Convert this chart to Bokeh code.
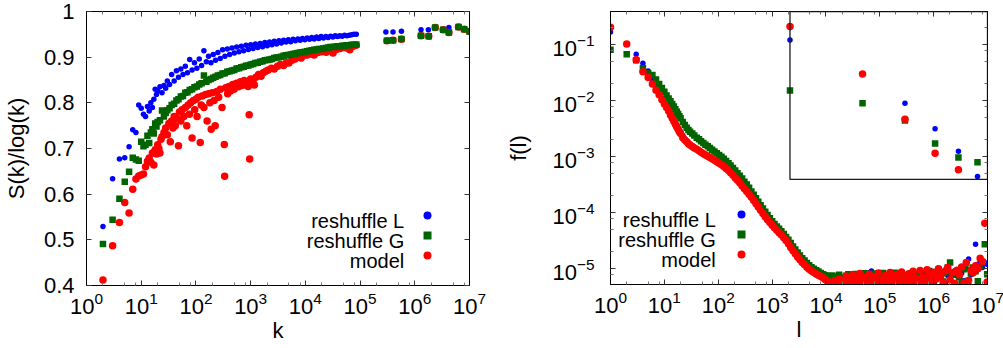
import numpy as np
from bokeh.plotting import figure
from bokeh.layouts import row
from bokeh.models import (LogAxis, LinearAxis, FixedTicker, Range1d, LogScale, Legend,
                          LegendItem, Label, BoxAnnotation, CustomJSTickFormatter)
from bokeh.embed import file_html
from bokeh.resources import INLINE

# ---------------- left panel: S(k)/log(k) versus k ----------------
k_L = [2, 3, 4, 5, 6, 7, 8, 9, 10, 11, 12, 13, 14, 15, 16, 17, 18, 19, 20, 22,
       24, 26, 28, 30, 33, 36, 40, 44, 48, 53, 58, 64, 70, 77, 85, 94, 104, 115, 127, 140,
       155, 170, 188, 207, 228, 252, 278, 307, 339, 374, 413, 456, 503, 555, 613, 676, 747, 824, 910, 1004,
       1110, 1225, 1350, 1490, 1650, 1820, 2010, 2220, 2450, 2700, 2980, 3290, 3630, 4010, 4430, 4890, 5400, 5960, 6580, 7260,
       8020, 8850, 9770, 10800, 11900, 13100, 14500, 16000, 17600, 19400, 21400, 23700, 26100, 28800, 31800, 35100, 38700, 42700, 47200, 52100,
       57500, 63400, 70000, 77300, 85300, 296000, 400000, 570000, 1300000, 1770000, 4200000, 6500000, 8000000]
s_L = [.529, .634, .677, .680, .704, .741, .735, .795, .788, .775, .770, .792, .782, .800, .790, .808, .830, .818, .826, .835,
       .822, .838, .832, .848, .840, .862, .848, .870, .856, .874, .862, .880, .866, .895, .872, .888, .876, .896, .882, .914,
       .890, .902, .888, .906, .893, .910, .897, .916, .902, .918, .906, .920, .909, .922, .912, .924, .914, .926, .917, .927,
       .919, .929, .921, .930, .923, .932, .925, .933, .927, .935, .929, .936, .931, .937, .933, .938, .934, .939, .936, .940,
       .937, .941, .938, .942, .939, .943, .940, .944, .941, .945, .942, .945, .943, .946, .944, .947, .945, .947, .946, .948,
       .947, .948, .949, .950, .950, .955, .955, .957, .960, .960, .965, .966, .962]

k_G = [2, 3, 4, 5, 6, 7, 8, 9, 10, 11, 12, 13, 14, 15, 16, 17, 18, 19, 20, 22,
       24, 26, 28, 30, 33, 36, 40, 44, 48, 53, 58, 64, 70, 77, 85, 94, 104, 115, 127, 140,
       155, 170, 188, 207, 228, 252, 278, 307, 339, 374, 413, 456, 503, 555, 613, 676, 747, 824, 910, 1004,
       1110, 1225, 1350, 1490, 1650, 1820, 2010, 2220, 2450, 2700, 2980, 3290, 3630, 4010, 4430, 4890, 5400, 5960, 6580, 7260,
       8020, 8850, 9770, 10800, 11900, 13100, 14500, 16000, 17600, 19400, 21400, 23700, 26100, 28800, 31800, 35100, 38700, 42700, 47200, 52100,
       57500, 63400, 70000, 77300, 85300, 310000, 400000, 570000, 1300000, 1800000, 2360000, 3300000, 4200000, 6300000, 8000000, 10000000]
s_G = [.491, .544, .590, .627, .649, .680, .676, .673, .715, .705, .708, .728, .712, .735, .742, .733, .755, .748, .758, .762,
       .783, .770, .778, .784, .788, .795, .798, .805, .808, .814, .815, .822, .823, .828, .830, .834, .836, .840, .843, .860,
       .846, .850, .852, .855, .857, .860, .861, .864, .865, .868, .869, .871, .872, .875, .876, .878, .879, .881, .882, .884,
       .885, .887, .888, .890, .891, .893, .894, .895, .896, .898, .899, .900, .901, .903, .904, .905, .906, .907, .908, .909,
       .910, .911, .912, .913, .914, .915, .916, .917, .918, .918, .919, .920, .921, .922, .922, .923, .924, .924, .925, .925,
       .926, .926, .927, .927, .928, .936, .937, .940, .947, .946, .965, .960, .954, .966, .961, .956]

k_M = [2, 3, 4, 5, 6, 7, 8, 9, 10, 11, 12, 13, 14, 15, 16, 17, 18, 19, 20, 21,
       22, 23, 24, 26, 28, 30, 32, 34, 36, 38, 40, 42, 45, 48, 50, 53, 56, 60, 64, 68,
       72, 76, 80, 85, 90, 95, 100, 105, 110, 120, 125, 130, 140, 150, 160, 170, 180, 190, 200, 215,
       225, 240, 260, 280, 300, 330, 335, 350, 380, 400, 430, 470, 500, 550, 600, 650, 700, 760, 830, 900,
       940, 960, 1000, 1100, 1170, 1250, 1400, 1550, 1700, 1900, 2100, 2400, 2700, 3100, 3500, 4000, 4500, 5000, 5700, 6500,
       7400, 8400, 9500, 10800, 12500, 14500, 17000, 20000, 24000, 28000, 32000, 37000, 43000, 50000, 57000, 65000, 75000, 85000,
       310000, 400000, 570000, 1300000, 1800000, 2360000, 3300000, 4200000, 6300000, 8000000, 10000000]
s_M = [.412, .487, .538, .582, .559, .611, .633, .640, .642, .644, .660, .672, .679, .670, .690, .664, .697, .688, .708, .700,
       .690, .720, .726, .735, .745, .730, .755, .715, .760, .745, .770, .750, .765, .706, .780, .760, .785, .770, .790, .750,
       .795, .775, .800, .723, .805, .785, .808, .770, .812, .713, .795, .815, .790, .818, .760, .820, .800, .742, .822, .805,
       .750, .825, .812, .830, .790, .709, .639, .833, .820, .836, .826, .840, .830, .843, .835, .846, .838, .849, .842, .836,
       .774, .677, .852, .846, .839, .856, .862, .858, .866, .869, .872, .876, .874, .880, .884, .882, .888, .887, .893, .896,
       .900, .898, .904, .905, .907, .905, .910, .912, .911, .914, .909, .917, .919, .921, .920, .916, .924, .926,
       .936, .937, .939, .947, .946, .965, .960, .954, .966, .961, .956]

# ---------------- right panel: f(l) versus l ----------------
l_vals = [1, 2, 3, 4, 5, 6, 7, 8, 9, 10,
          11, 12, 13, 14, 15, 16, 17, 18, 19, 20,
          22, 24, 26, 28, 30, 33, 36, 40, 44, 48,
          53, 58, 64, 70, 77, 85, 94, 104, 115, 127,
          140, 155, 170, 188, 207, 228, 252, 278, 307, 339,
          374, 413, 456, 503, 555, 613, 676, 747, 824, 910,
          1004, 1110, 1225, 1350, 1490, 1650, 1820, 2010, 2220, 2450,
          2700, 2980, 3290, 3630, 4010, 4430, 4890, 5400, 5960, 6580,
          7260, 8020, 8850, 9770, 10800, 11900, 13100, 14500, 16000, 17600,
          19400, 21400, 23700, 26100, 28800, 31800, 35100, 38700, 42700, 47200,
          52100, 57500, 63400, 70000, 77300, 85300, 94200, 104000, 115000, 127000,
          140000, 155000, 171000, 189000, 208000, 230000, 254000, 280000, 309000, 341000,
          377000, 416000, 459000, 507000, 560000, 618000, 682000, 753000, 831000, 918000,
          1010000, 1120000, 1230000, 1360000, 1500000, 1660000, 1830000, 2020000, 2230000, 2460000,
          2720000, 3000000, 3310000, 3660000, 4040000, 4460000, 4920000, 5430000, 6000000, 6620000,
          7310000, 8070000, 8910000, 9840000]
f_L = [.170, .104, .068, .047, .034, .0236, .0170, .0136, .0112, .0094,
       .0081, .0070, .0060, .0052, .0046, .0041, .0037, .0033, .0030, .0028,
       .0024, .0021, .0019, .00178, .00168, .00158, .00149, .00140, .00132, .00125,
       .00117, .00111, .00105, .00099, .00094, .00089, .00084, .00079, .00074, .00069,
       .00064, .00059, .00054, .00049, .00044, .00040, .00035, .00031, .00028, .00025,
       2.22e-4, 1.95e-4, 1.7e-4, 1.5e-4, 1.31e-4, 1.15e-4, 1.0e-4, 8.8e-5, 7.8e-5, 6.9e-5,
       6.2e-5, 5.6e-5, 5.0e-5, 4.6e-5, 4.1e-5, 3.7e-5, 3.3e-5, 2.9e-5, 2.5e-5, 2.2e-5,
       1.92e-5, 1.69e-5, 1.5e-5, 1.34e-5, 1.21e-5, 1.1e-5, 1.0e-5, 9.3e-6, 8.7e-6, 8.2e-6,
       7.8e-6, 7.4e-6, 7.0e-6, 6.6e-6, 6.3e-6, 6.0e-6, 5.7e-6, 5.9e-6, 5.4e-6, 6.1e-6,
       5.8e-6, 5.3e-6, 6.0e-6, 6.3e-6, 5.5e-6, 6.2e-6, 6.6e-6, 5.4e-6, 6.3e-6, 6.9e-6,
       5.6e-6, 7.8e-6, 8.5e-6, 9.1e-6, 7.0e-6, 5.6e-6, 6.7e-6, 5.3e-6, 6.4e-6, 5.5e-6,
       6.2e-6, 5.3e-6, 6.0e-6, 6.6e-6, 5.4e-6, 6.3e-6, 5.5e-6, 6.1e-6, 6.7e-6, 5.4e-6,
       7.2e-6, 6.4e-6, 5.5e-6, 7.6e-6, 6.8e-6, 5.6e-6, 7.3e-6, 6.6e-6, 5.4e-6, 7.0e-6,
       7.8e-6, 6.4e-6, 7.2e-6, 8.2e-6, 8.8e-6, 5.6e-6, 7.6e-6, 6.6e-6, 8.0e-6, 9.2e-6,
       7.4e-6, 6.9e-6, 8.3e-6, 6.1e-6, 1.0e-5, 1.5e-5, 7.8e-6, 9.0e-6, 2.75e-5, 1.2e-5,
       1.4e-5, 1.05e-5, 1.3e-5, 1.2e-5]
f_G = [.082, .068, .053, .038, .031, .029, .024, .020, .017, .0145,
       .0125, .0110, .0098, .0088, .0079, .0071, .0064, .0058, .0053, .0049,
       .0042, .0037, .0033, .0030, .0028, .0026, .0024, .0022, .00205, .00190,
       .00176, .00165, .00154, .00144, .00134, .00125, .00116, .00108, .00100, .00092,
       .00084, .00077, .00070, .00063, .00057, .00051, .00046, .00041, .00036, .00032,
       2.8e-4, 2.4e-4, 2.1e-4, 1.82e-4, 1.58e-4, 1.37e-4, 1.19e-4, 1.04e-4, 9.1e-5, 8.0e-5,
       7.1e-5, 6.3e-5, 5.7e-5, 5.2e-5, 4.7e-5, 4.2e-5, 3.7e-5, 3.3e-5, 2.9e-5, 2.5e-5,
       2.2e-5, 1.95e-5, 1.73e-5, 1.55e-5, 1.40e-5, 1.27e-5, 1.16e-5, 1.07e-5, 1.0e-5, 9.4e-6,
       8.9e-6, 8.4e-6, 8.0e-6, 7.7e-6, 7.4e-6, 7.1e-6, 7.6e-6, 6.2e-6, 7.3e-6, 7.8e-6,
       7.0e-6, 5.6e-6, 7.5e-6, 8.0e-6, 6.2e-6, 7.4e-6, 8.1e-6, 5.8e-6, 6.5e-6, 7.7e-6,
       8.3e-6, 6.0e-6, 7.5e-6, 5.6e-6, 8.2e-6, 7.2e-6, 5.8e-6, 7.8e-6, 8.4e-6, 6.1e-6,
       5.5e-6, 7.9e-6, 7.3e-6, 8.5e-6, 5.9e-6, 7.6e-6, 8.2e-6, 6.0e-6, 5.4e-6, 7.7e-6,
       8.3e-6, 6.2e-6, 5.7e-6, 7.9e-6, 7.4e-6, 8.6e-6, 6.0e-6, 7.8e-6, 9.1e-6, 6.3e-6,
       5.8e-6, 8.0e-6, 9.5e-6, 7.5e-6, 5.9e-6, 8.4e-6, 1.05e-5, 1.3e-5, 7.8e-6, 5.4e-6,
       8.8e-6, 7.2e-6, 5.8e-6, 9.8e-6, 1.25e-5, 6.1e-6, 8.3e-6, 1.05e-5, 9.0e-6, 6.0e-6,
       1.1e-5, 1.3e-5, 2.75e-5, 8.0e-6]
f_M = [.207, .104, .054, .033, .026, .020, .0155, .0128, .0105, .0088,
       .0076, .0066, .0056, .0049, .0043, .0038, .0034, .0031, .0028, .0026,
       .0022, .0020, .00185, .00172, .00163, .00153, .00144, .00136, .00128, .00121,
       .00114, .00108, .00102, .00097, .00092, .00087, .00082, .00077, .00072, .00067,
       .00062, .00057, .00052, .00047, .00042, .00038, .00034, .00030, .00027, .00024,
       2.15e-4, 1.9e-4, 1.65e-4, 1.45e-4, 1.27e-4, 1.11e-4, 9.7e-5, 8.5e-5, 7.5e-5, 6.7e-5,
       6.0e-5, 5.4e-5, 4.9e-5, 4.4e-5, 4.0e-5, 3.6e-5, 3.2e-5, 2.8e-5, 2.4e-5, 2.1e-5,
       1.85e-5, 1.63e-5, 1.45e-5, 1.30e-5, 1.18e-5, 1.07e-5, 9.8e-6, 9.1e-6, 8.6e-6, 8.1e-6,
       7.7e-6, 7.3e-6, 6.9e-6, 6.4e-6, 6.0e-6, 5.6e-6, 5.3e-6, 6.1e-6, 5.4e-6, 6.5e-6,
       5.2e-6, 6.2e-6, 7.4e-6, 5.5e-6, 6.6e-6, 7.8e-6, 5.6e-6, 6.8e-6, 8.2e-6, 5.7e-6,
       7.0e-6, 5.3e-6, 8.0e-6, 6.1e-6, 7.2e-6, 5.5e-6, 8.4e-6, 6.3e-6, 5.4e-6, 7.6e-6,
       6.0e-6, 8.6e-6, 6.5e-6, 5.3e-6, 7.9e-6, 6.2e-6, 8.8e-6, 6.7e-6, 5.5e-6, 8.1e-6,
       6.4e-6, 9.0e-6, 6.9e-6, 5.6e-6, 9.3e-6, 7.1e-6, 5.8e-6, 9.6e-6, 7.4e-6, 6.0e-6,
       8.7e-6, 6.6e-6, 1.0e-5, 7.6e-6, 5.7e-6, 9.2e-6, 1.05e-5, 6.4e-6, 8.5e-6, 5.5e-6,
       9.4e-6, 7.8e-6, 1.08e-5, 5.6e-6, 1.3e-5, 6.2e-6, 9.5e-6, 8.5e-6, 1.13e-5, 1.0e-5,
       1.55e-5, 1.35e-5, 6.5e-5, 5.8e-6]

series_names = ["reshuffle L", "reshuffle G", "model"]

# axis limits
K_RANGE = (1.0, 1e7)
S_RANGE = (0.4, 1.0)
S_TICKS = [0.4, 0.5, 0.6, 0.7, 0.8, 0.9, 1.0]
F_RANGE = (5.24e-6, 0.394)
F_TICKS = [1e-5, 1e-4, 1e-3, 1e-2, 1e-1]
INSET_L_RANGE = (0.18, 6.60)
INSET_F_RANGE = (0.004935, 0.2572)
INSET_BOX = (1.0, 0.0226)   # lower-left corner of the inset in inset coordinates

# styles
FONT = "Liberation Sans"
BLUE, GREEN, RED = "#0000ff", "#006400", "#ff0000"
MK = {"L": ("circle", 5.5, BLUE), "G": ("square", 6.5, GREEN), "M": ("circle", 7.5, RED)}
TICK_FS = "22px"
LABEL_FS = "22px"
LEG_FS = "20px"

decades = [10.0 ** i for i in range(8)]
minor_k = [m * 10.0 ** i for i in range(7) for m in (2, 5, 8)]
minor_f = [m * 10.0 ** i for i in range(-6, 0) for m in (2, 5, 8)]


def style_axis(ax, show_labels=True, standoff=10, label_standoff=8):
    ax.axis_line_color = "black"
    ax.axis_line_width = 1
    ax.major_tick_in = 5
    ax.major_tick_out = 0
    ax.minor_tick_in = 3
    ax.minor_tick_out = 0
    ax.major_tick_line_color = "#333333"
    ax.minor_tick_line_color = "#777777"
    ax.major_label_text_font = FONT
    ax.major_label_text_color = "black"
    ax.axis_label_text_font = FONT
    ax.axis_label_text_font_size = LABEL_FS
    ax.axis_label_text_font_style = "normal"
    ax.axis_label_text_color = "black"
    ax.axis_label_standoff = label_standoff
    if show_labels:
        ax.major_label_text_font_size = TICK_FS
        ax.major_label_standoff = standoff
    else:
        ax.major_label_text_font_size = "0px"
        ax.major_label_text_color = None
        ax.major_label_standoff = 0
        ax.axis_label_standoff = 0


def base_fig(fw, fh, ylog, yr, left, right, top, bottom):
    p = figure(frame_width=fw, frame_height=fh, x_axis_type="log",
               y_axis_type="log" if ylog else "linear",
               x_range=Range1d(*K_RANGE), y_range=Range1d(*yr),
               output_backend="svg", toolbar_location=None,
               min_border_left=left, min_border_right=right,
               min_border_top=top, min_border_bottom=bottom)
    p.grid.visible = False
    p.outline_line_color = "black"
    p.outline_line_width = 1
    p.background_fill_color = "white"
    p.border_fill_color = "white"
    return p


def add_legend(p, renderers, gx, text_x):
    legend = Legend(items=[LegendItem(label=" ", renderers=[r]) for r in renderers],
                    location=(gx, 20), orientation="vertical",
                    glyph_width=20, glyph_height=20, label_height=20, label_width=1,
                    label_standoff=0, spacing=0, padding=0, margin=0,
                    label_text_font_size="1px", border_line_color=None,
                    background_fill_alpha=0)
    p.add_layout(legend)
    for name, yb in zip(series_names, (65, 45, 25)):
        p.add_layout(Label(x=text_x, y=yb, x_units="screen", y_units="screen", text=name,
                           text_align="right", text_baseline="alphabetic",
                           text_font=FONT, text_font_size=LEG_FS, text_color="black"))


# ---------------- left figure ----------------
p1 = base_fig(383, 274, False, S_RANGE, 84, 33, 10, 64)
ax = p1.xaxis[0]
ax.ticker = FixedTicker(ticks=decades, minor_ticks=minor_k)
ax.axis_label = "k"
style_axis(ax, True, 6, 1)
ay = p1.yaxis[0]
ay.ticker = FixedTicker(ticks=S_TICKS, minor_ticks=[])
ay.formatter = CustomJSTickFormatter(code="return String(+tick.toFixed(1));")
ay.axis_label = "S(k)/log(k)"
style_axis(ay, True, 12, 12)
top1 = LogAxis(ticker=FixedTicker(ticks=decades, minor_ticks=minor_k))
style_axis(top1, False)
p1.add_layout(top1, "above")
right1 = LinearAxis(ticker=FixedTicker(ticks=S_TICKS, minor_ticks=[]))
style_axis(right1, False)
p1.add_layout(right1, "right")

rL1 = p1.scatter(k_L, s_L, marker=MK["L"][0], size=MK["L"][1], color=MK["L"][2], line_width=0)
rM1 = p1.scatter(k_M, s_M, marker=MK["M"][0], size=MK["M"][1], color=MK["M"][2], line_width=0)
rG1 = p1.scatter(k_G, s_G, marker=MK["G"][0], size=MK["G"][1], color=MK["G"][2], line_width=0)
add_legend(p1, [rL1, rG1, rM1], 331, 317.7)

# ---------------- right figure ----------------
p2 = base_fig(377, 273, True, F_RANGE, 108, 18, 11, 64)
bx = p2.xaxis[0]
bx.ticker = FixedTicker(ticks=decades, minor_ticks=minor_k)
bx.axis_label = "l"
style_axis(bx, True, 6, 1)
by = p2.yaxis[0]
by.ticker = FixedTicker(ticks=F_TICKS, minor_ticks=minor_f)
by.axis_label = "f(l)"
style_axis(by, True, 16, 18)
top2 = LogAxis(ticker=FixedTicker(ticks=decades, minor_ticks=minor_k))
style_axis(top2, False)
p2.add_layout(top2, "above")
right2 = LogAxis(ticker=FixedTicker(ticks=F_TICKS, minor_ticks=minor_f))
style_axis(right2, False)
p2.add_layout(right2, "right")

rL2 = p2.scatter(l_vals, f_L, marker=MK["L"][0], size=MK["L"][1], color=MK["L"][2], line_width=0)
rG2 = p2.scatter(l_vals, f_G, marker=MK["G"][0], size=MK["G"][1], color=MK["G"][2], line_width=0)
rM2 = p2.scatter(l_vals, f_M, marker=MK["M"][0], size=MK["M"][1], color=MK["M"][2], line_width=0)
add_legend(p2, [rL2, rG2, rM2], 121, 105.3)

# ---------------- inset (first points, zoomed) ----------------
p2.extra_x_ranges = {"inset": Range1d(*INSET_L_RANGE)}
p2.extra_x_scales = {"inset": LogScale()}
p2.extra_y_ranges = {"inset": Range1d(*INSET_F_RANGE)}
p2.extra_y_scales = {"inset": LogScale()}
p2.add_layout(BoxAnnotation(left=INSET_BOX[0], bottom=INSET_BOX[1],
                            x_range_name="inset", y_range_name="inset",
                            fill_alpha=0, line_color="#1a1a1a", line_alpha=1.0, line_width=1.3))
lv = np.array(l_vals, dtype=float)
for key, vals in (("L", f_L), ("G", f_G), ("M", f_M)):
    v = np.array(vals, dtype=float)
    m = (lv >= INSET_BOX[0]) & (lv <= INSET_L_RANGE[1]) & (v >= INSET_BOX[1]) & (v <= INSET_F_RANGE[1])
    p2.scatter(lv[m], v[m], marker=MK[key][0], size=MK[key][1], color=MK[key][2], line_width=0,
               x_range_name="inset", y_range_name="inset")

layout = row(p1, p2)
open("out.html", "w").write(file_html(layout, INLINE))
